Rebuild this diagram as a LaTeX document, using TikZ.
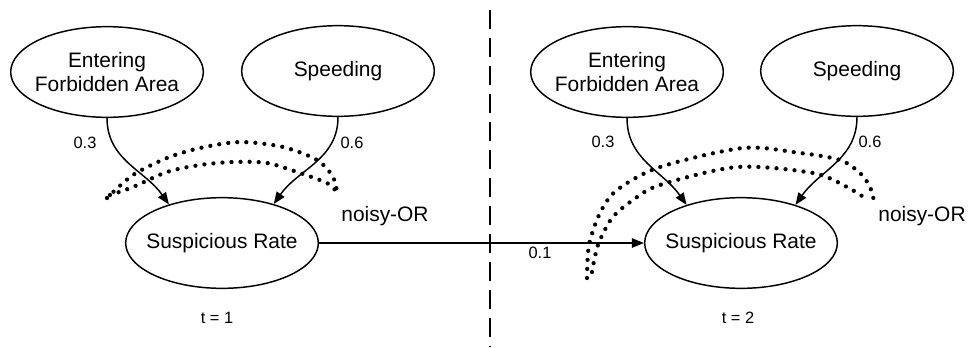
\documentclass[tikz,border=0pt]{standalone}
\usepackage{fontspec}
\setmainfont{Liberation Sans}
\usetikzlibrary{shapes.geometric,arrows.meta}
\begin{document}
\begin{tikzpicture}[x=0.75pt,y=-0.75pt,
  ell/.style={ellipse,draw,line width=1.1pt,minimum width=144.5pt,minimum height=68pt,inner xsep=-9pt,inner ysep=0pt,align=center,font=\fontsize{15.7}{18}\selectfont},
  lbl/.style={font=\fontsize{12.3}{14}\selectfont,inner sep=0pt},
  big/.style={font=\fontsize{15.7}{18}\selectfont,inner sep=0pt},
  arr/.style={line width=1.1pt,-{Triangle[length=9pt,width=7pt]}},
  dots/.style={line width=3.2pt,line cap=round,dash pattern=on 0pt off 6.8pt},
  divider/.style={line width=1.3pt,dash pattern=on 14pt off 7pt}]
\useasboundingbox (0,0) rectangle (968,347);
% left
\node[ell] (eL) at (107,72) {Entering\\Forbidden Area};
\node[ell] (spL) at (338,71) {Speeding};
\node[ell] (sL) at (222,243) {Suspicious Rate};
% right
\node[ell] (eR) at (627,72) {Entering\\Forbidden Area};
\node[ell] (spR) at (857,71) {Speeding};
\node[ell] (sR) at (741,243) {Suspicious Rate};
% divider
\coordinate (dTop) at (490,10);
\coordinate (dBot) at (490,347);
\draw[divider] (dTop) -- (dBot);
% dotted arcs left
\draw[dots] plot[smooth] coordinates {(107,198) (133,175) (167,158) (200,148) (240,142) (283,147) (317,160) (333,177) (338,197)};
\draw[dots] plot[smooth] coordinates {(110,195) (133,187) (167,172) (200,165) (233,162) (267,163) (300,173) (327,183) (335,190)};
% dotted arcs right
\draw[dots] plot[smooth] coordinates {(587,278) (589,245) (600,213) (617,190) (660,167) (743,148) (800,153) (840,160) (860,173) (870,187) (875,205)};
\draw[dots] plot[smooth] coordinates {(592,272) (598,245) (612,218) (633,200) (660,185) (737,167) (813,173) (847,187) (868,200)};
% arrows
\draw[arr] (eL.south) to[out=-90,in=125] (sL.144);
\draw[arr] (spL.south) to[out=-90,in=55] (sL.37);
\draw[arr] (eR.south) to[out=-90,in=125] (sR.145);
\draw[arr] (spR.south) to[out=-90,in=55] (sR.35);
\draw[arr] (sL.east) -- (sR.west);
% labels
\node[lbl] (l03L) at (85,143) {0.3};
\node[lbl] (l06L) at (352,143) {0.6};
\node[lbl] (l03R) at (603,142) {0.3};
\node[lbl] (l06R) at (870,142) {0.6};
\node[lbl] (l01) at (540,253) {0.1};
\node[big] (orL) at (385,216) {noisy-OR};
\node[big] (orR) at (922,216) {noisy-OR};
\node[lbl] (t1) at (217,318) {t = 1};
\node[lbl] (t2) at (738,318) {t = 2};
\end{tikzpicture}
\end{document}
